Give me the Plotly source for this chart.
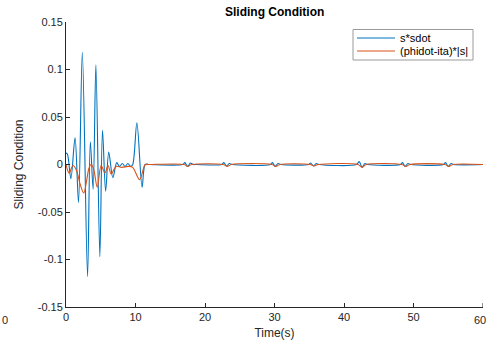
import plotly.graph_objects as go

# ---- data ----
blue_name = "s*sdot"
orange_name = "(phidot-ita)*|s|"

blue_t = [0, 0.2, 0.7, 1.3, 1.8, 2.35, 3.1, 3.5, 3.9, 4.3, 4.87, 5.25, 5.7, 6.15, 6.74,
          7.3, 7.7, 8.1, 8.5, 8.9, 9.3, 9.6, 10.2, 10.95, 11.4, 12,
          16.8, 17.1, 17.5, 17.9, 18.3, 18.7,
          22.4, 22.7, 23.1, 23.5, 23.9,
          29.4, 29.7, 30.1, 30.5, 30.9,
          34.9, 35.2, 35.6, 36.0, 36.4,
          41.8, 42.2, 42.6, 43.0, 43.4,
          48.1, 48.4, 48.8, 49.2, 49.6,
          54.3, 54.6, 55.0, 55.4, 55.8, 60]
blue_v = [0.012, 0.011, -0.015, 0.028, -0.040, 0.118, -0.118, 0.024, -0.026, 0.105, -0.097, 0.036, -0.028, 0.013, -0.014,
          0.002, -0.002, 0.001, -0.002, 0.001, -0.002, 0.0, 0.044, -0.024, 0.0, 0.0,
          0, 0.002, -0.002, 0.0015, 0, 0,
          0, 0.002, -0.0015, 0.001, 0,
          0, 0.002, -0.002, 0.001, 0,
          0, 0.0015, -0.0015, 0.001, 0,
          0, 0.003, -0.003, 0.001, 0,
          0, 0.002, -0.002, 0.001, 0,
          0, 0.002, -0.002, 0.001, 0, 0]

orange_t = [0, 0.45, 1.0, 1.5, 2.0, 2.55, 3.3, 3.6, 3.95, 4.5, 5.05, 5.6, 6.05, 6.5,
            7.2, 8.0, 9.0, 9.6, 10.6, 11.4, 12,
            17.0, 17.5, 18.1, 22.6, 23.2, 23.8, 29.6, 30.2, 30.8, 35.1, 35.7, 36.3,
            42.0, 42.6, 43.2, 48.3, 48.9, 49.5, 54.5, 55.1, 55.7, 60]
orange_v = [0, -0.009, -0.001, -0.006, -0.020, -0.030, -0.004, 0.0, -0.004, -0.024, -0.001, -0.009, -0.001, -0.010,
            -0.002, -0.003, -0.002, -0.003, -0.016, 0, 0,
            0, -0.002, 0, 0, -0.002, 0, 0, -0.002, 0, 0, -0.0015, 0,
            0, -0.003, 0, 0, -0.002, 0, 0, -0.002, 0, 0]

x_ticks = [0, 10, 20, 30, 40, 50, 60]
x_tick_text = ["0", "10", "20", "30", "40", "50", "60"]
y_ticks = [-0.15, -0.1, -0.05, 0, 0.05, 0.1, 0.15]
y_tick_text = ["-0.15", "-0.1", "-0.05", "0", "0.05", "0.1", "0.15"]

title_text = "Sliding Condition"
x_label = "Time(s)"
y_label = "Sliding Condition"

# ---- figure ----
W, H = 488, 345
ML, MR, MT, MB = 66, 5, 22, 38
PW, PH = W - ML - MR, H - MT - MB

def px(xp):  # pixel -> paper x
    return (xp - ML) / PW

def py(yp):  # pixel -> paper y
    return (H - MB - yp) / PH

axis_color = "#262626"
font_family = "Liberation Sans, Arial, sans-serif"
blue_c, orange_c = "#0072BD", "#D95319"

fig = go.Figure()
fig.add_trace(go.Scatter(x=blue_t, y=blue_v, mode="lines", name=blue_name,
                         line=dict(color=blue_c, width=1.1, shape="spline", smoothing=0.9)))
fig.add_trace(go.Scatter(x=orange_t, y=orange_v, mode="lines", name=orange_name,
                         line=dict(color=orange_c, width=1.1, shape="spline", smoothing=0.9)))

shapes = [
    # legend box
    dict(type="rect", xref="paper", yref="paper", x0=px(353), x1=px(473), y0=py(60), y1=py(29.5),
         line=dict(color="#9a9a9a", width=1), fillcolor="white", layer="above"),
    dict(type="line", xref="paper", yref="paper", x0=px(357), x1=px(395), y0=py(38), y1=py(38),
         line=dict(color=blue_c, width=1.2), layer="above"),
    dict(type="line", xref="paper", yref="paper", x0=px(357), x1=px(395), y0=py(51), y1=py(51),
         line=dict(color=orange_c, width=1.2), layer="above"),
    # tick mark at 60 (its label is drawn as an annotation)
    dict(type="line", xref="x", yref="paper", x0=60, x1=60, y0=0, y1=4 / PH,
         line=dict(color=axis_color, width=1)),
]

annotations = [
    dict(text="<b>" + title_text + "</b>", xref="paper", yref="paper",
         x=0.5, y=1.0, yshift=10, xanchor="center", yanchor="middle",
         showarrow=False, font=dict(size=12, color="black")),
    dict(text=blue_name, xref="paper", yref="paper", x=px(398), y=py(38),
         xanchor="left", yanchor="middle", showarrow=False, font=dict(size=11, color="black")),
    dict(text=orange_name, xref="paper", yref="paper", x=px(398), y=py(51),
         xanchor="left", yanchor="middle", showarrow=False, font=dict(size=11, color="black")),
    # stray tick label of a neighbouring axes at the left edge
    dict(text="0", xref="paper", yref="paper", x=px(0), y=py(320),
         xanchor="left", yanchor="middle", showarrow=False, font=dict(size=11, color=axis_color)),
    # last x tick label, kept inside the right edge
    dict(text=x_tick_text[-1], xref="paper", yref="paper", x=px(488), y=py(320),
         xanchor="right", yanchor="middle", showarrow=False, font=dict(size=11, color=axis_color)),
]

fig.update_layout(
    width=W, height=H,
    margin=dict(l=ML, r=MR, t=MT, b=MB, autoexpand=False),
    paper_bgcolor="white", plot_bgcolor="white",
    font=dict(family=font_family, size=11, color=axis_color),
    showlegend=False,
    xaxis=dict(range=[0, 60], tickvals=x_ticks[:-1], ticktext=x_tick_text[:-1], ticks="inside", ticklen=4,
               tickcolor=axis_color, showline=True, linecolor=axis_color, linewidth=1,
               showgrid=False, zeroline=False, mirror=False, automargin=False,
               title=dict(text=x_label, font=dict(size=12), standoff=6)),
    yaxis=dict(range=[-0.15, 0.15], tickvals=y_ticks, ticktext=y_tick_text,
               ticks="inside", ticklen=4, tickcolor=axis_color,
               showline=True, linecolor=axis_color, linewidth=1,
               showgrid=False, zeroline=False, mirror=False, automargin=False,
               title=dict(text=y_label, font=dict(size=12), standoff=11)),
    shapes=shapes,
    annotations=annotations,
)

fig.write_html("out.html", config={"displayModeBar": False},
               post_script="document.body.style.margin='0';document.body.style.padding='0';")
